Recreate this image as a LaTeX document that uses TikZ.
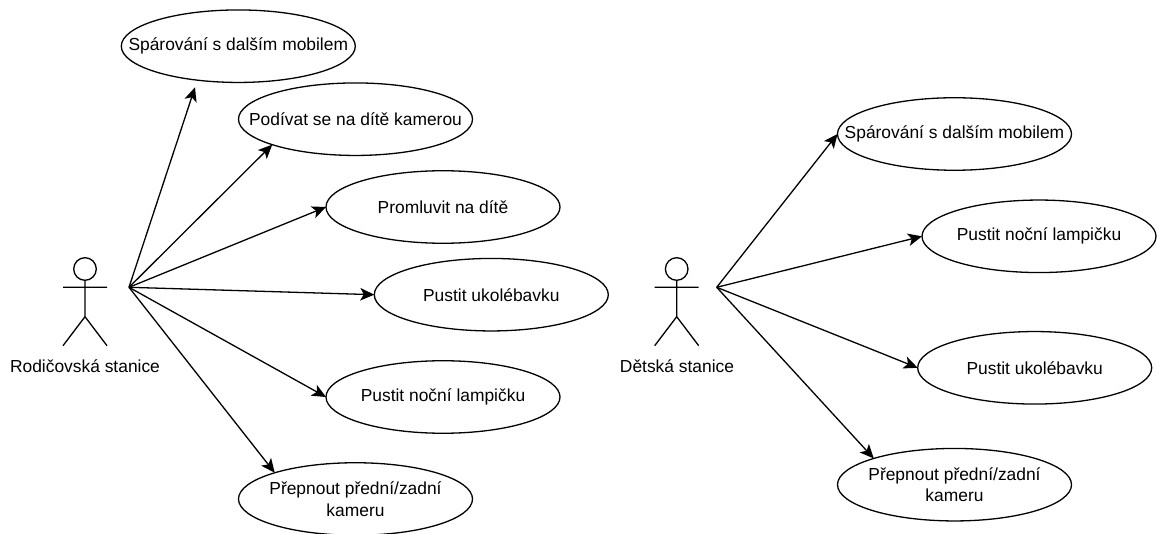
\documentclass[tikz,border=0pt]{standalone}
\usepackage{fontspec}
\setmainfont{Liberation Sans}
\usetikzlibrary{shapes.geometric,arrows.meta}
\tikzset{
  usecase/.style={ellipse,draw=black,line width=1.3pt,fill=white,minimum width=234pt,minimum height=72.5pt,inner ysep=0pt,inner xsep=-40pt,outer sep=0pt,align=center,font=\fontsize{17.4}{21.6}\selectfont},
  actorline/.style={draw=black,line width=1.3pt},
  head/.style={circle,draw=black,line width=1.3pt,inner sep=0pt,outer sep=0pt,minimum size=22.6pt},
  actorlabel/.style={inner sep=0pt,font=\fontsize{17.4}{21}\selectfont},
  link/.style={draw=black,line width=1.3pt,-{Stealth[length=14pt,width=12.5pt,inset=3.5pt]}}
}
\begin{document}
\begin{tikzpicture}[x=1pt,y=-1pt]
\useasboundingbox (0,0) rectangle (1157,534);
% left use cases
\node[usecase] (a1) at (238.3,46.2) {Spárování s dalším mobilem};
\node[usecase] (a2) at (355.5,119.2) {Podívat se na dítě kamerou};
\node[usecase] (a3) at (443,207) {Promluvit na dítě};
\node[usecase] (a4) at (491.3,294.7) {Pustit ukolébavku};
\node[usecase] (a5) at (443,397) {Pustit noční lampičku};
\node[usecase] (a6) at (355.5,499) {Přepnout přední/zadní\\kameru};
% left actor
\node[head] (ah) at (85,269) {};
\coordinate (aarml) at (63,287.3);
\coordinate (aarmr) at (107,287.3);
\coordinate (ahip) at (85,316.7);
\coordinate (afl) at (63,345.7);
\coordinate (afr) at (107,345.7);
\draw[actorline] (ah.south) -- (ahip) (aarml) -- (aarmr) (afl) -- (ahip) -- (afr);
\node[actorlabel] (al) at (85,365.7) {Rodičovská stanice};
\coordinate (as) at (129,287.3);
\coordinate (ae1) at (195,87.3);
\draw[link] (as) -- (ae1);
\draw[link] (as) -- (a2.197.7);
\draw[link] (as) -- (a3.west);
\draw[link] (as) -- (a4.west);
\draw[link] (as) -- (a5.west);
\draw[link] (as) -- (a6.162.6);
% right use cases
\node[usecase] (b1) at (954.5,134) {Spárování s dalším mobilem};
\node[usecase] (b2) at (1039,236.3) {Pustit noční lampičku};
\node[usecase] (b3) at (1034.7,367.8) {Pustit ukolébavku};
\node[usecase] (b4) at (954.5,484.7) {Přepnout přední/zadní\\kameru};
% right actor
\node[head] (bh) at (676.7,269) {};
\coordinate (barml) at (654.7,287.3);
\coordinate (barmr) at (698.7,287.3);
\coordinate (bhip) at (676.7,316.7);
\coordinate (bfl) at (654.7,345.7);
\coordinate (bfr) at (698.7,345.7);
\draw[actorline] (bh.south) -- (bhip) (barml) -- (barmr) (bfl) -- (bhip) -- (bfr);
\node[actorlabel] (bl) at (677,365.7) {Dětská stanice};
\coordinate (bs) at (716.7,287.3);
\draw[link] (bs) -- (b1.west);
\draw[link] (bs) -- (b2.west);
\draw[link] (bs) -- (b3.west);
\draw[link] (bs) -- (b4.162.5);
\end{tikzpicture}
\end{document}
